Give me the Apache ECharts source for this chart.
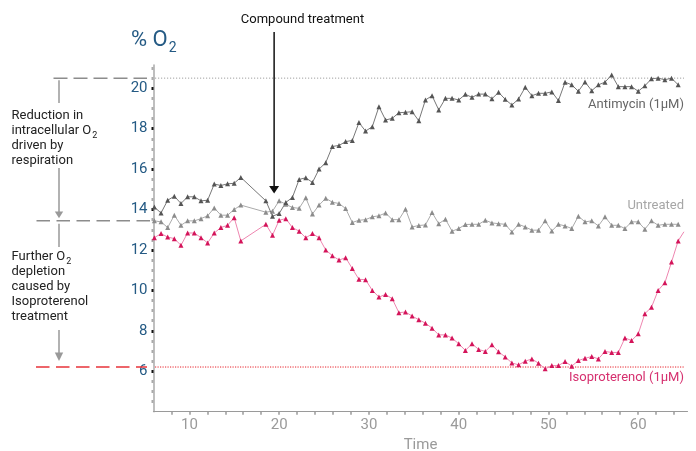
<!DOCTYPE html>
<html><head><meta charset="utf-8">
<script src="https://cdn.jsdelivr.net/npm/echarts@6/dist/echarts.min.js"></script>
<style>html,body{margin:0;padding:0;background:#fff}#c{width:696px;height:451px}</style>
</head><body><div id="c"></div>
<script>
// ---- data ----
const times = [6.10, 6.84, 7.58, 8.32, 9.06, 9.80, 10.55, 11.29, 12.03, 12.77, 13.51, 14.25, 14.99, 15.73,
  18.52, 19.26, 20.00, 20.74, 21.48, 22.23, 22.97, 23.71, 24.45, 25.19, 25.93, 26.67, 27.41, 28.15, 28.89, 29.63,
  30.38, 31.12, 31.86, 32.60, 33.34, 34.08, 34.82, 35.56, 36.30, 37.04, 37.78, 38.53, 39.27, 40.01, 40.75, 41.49,
  42.23, 42.97, 43.71, 44.45, 45.19, 45.93, 46.68, 47.42, 48.16, 48.90, 49.64, 50.38, 51.12, 51.86, 52.60, 53.34,
  54.08, 54.83, 55.57, 56.31, 57.05, 57.79, 58.53, 59.27, 60.01, 60.75, 61.49, 62.23, 62.98, 63.72, 64.46];
const antimycin = [14.12, 13.83, 14.46, 14.66, 14.30, 14.63, 14.63, 14.43, 14.46, 15.26, 15.19, 15.27, 15.30, 15.59,
  14.43, 13.67, 13.80, 14.35, 14.60, 15.49, 15.57, 15.34, 16.00, 16.32, 17.12, 17.17, 17.36, 17.42, 18.30, 17.88,
  18.10, 19.09, 18.43, 18.51, 18.79, 18.81, 18.84, 18.39, 19.42, 19.63, 18.93, 19.50, 19.50, 19.42, 19.70, 19.55,
  19.71, 19.71, 19.48, 19.80, 19.45, 19.17, 19.47, 20.05, 19.63, 19.75, 19.75, 19.82, 19.39, 20.30, 20.17, 19.85,
  20.31, 19.88, 20.17, 20.30, 20.66, 20.08, 20.08, 20.08, 19.85, 20.12, 20.47, 20.50, 20.42, 20.50, 20.17];
const untreated = [13.44, 13.39, 13.11, 13.72, 13.22, 13.44, 13.44, 13.55, 13.69, 14.08, 13.72, 13.72, 14.00, 14.22,
  13.87, 13.92, 14.43, 14.26, 14.10, 14.06, 14.58, 13.78, 14.22, 14.56, 14.36, 14.30, 14.05, 13.36, 13.47, 13.50,
  13.64, 13.69, 13.83, 13.50, 13.50, 14.02, 13.14, 13.21, 13.24, 13.85, 13.30, 13.52, 12.93, 13.06, 13.26, 13.27,
  13.27, 13.47, 13.34, 13.30, 13.27, 12.89, 13.27, 13.14, 12.98, 12.98, 13.44, 12.94, 13.27, 13.19, 13.06, 13.67,
  13.39, 13.44, 13.19, 13.64, 13.22, 13.22, 13.06, 13.39, 13.39, 13.03, 13.44, 13.22, 13.27, 13.27, 13.27];
const isoproterenol = [12.61, 12.81, 12.64, 12.56, 12.23, 12.84, 12.84, 12.61, 12.35, 12.84, 13.11, 13.22, 13.60, 12.45,
  13.27, 12.73, 13.47, 13.55, 13.11, 12.93, 12.60, 12.81, 12.60, 12.00, 11.72, 11.50, 11.62, 11.08, 10.55, 10.53,
  10.00, 9.67, 9.80, 9.59, 8.90, 8.93, 8.73, 8.55, 8.38, 8.13, 7.80, 7.80, 7.64, 7.36, 7.03, 7.36,
  7.08, 6.98, 7.31, 6.96, 6.71, 6.41, 6.32, 6.50, 6.61, 6.40, 6.12, 6.28, 6.28, 6.48, 6.25, 6.53,
  6.64, 6.73, 6.61, 6.98, 6.93, 6.93, 7.65, 7.52, 7.85, 8.85, 9.17, 10.00, 10.38, 11.40, 12.45];
const isoEnd = [65.1, 12.9];           // line continues to the edge without a marker
const xTickValues = [8, 10, 12, 14, 16, 18, 20, 22, 24, 26, 28, 30, 32, 34, 36, 38, 40, 42, 44, 46, 48, 50, 52, 54, 56, 58, 60, 62, 64];
const xLabelValues = [10, 20, 30, 40, 50, 60];
const yLabelValues = [6, 8, 10, 12, 14, 16, 18, 20];
const refLevels = { baseline: 20.5, respiration: 13.44, isoproterenol: 6.21 };
const treatmentTime = 19.44;
const seriesNames = ['Antimycin (1µM)', 'Untreated', 'Isoproterenol (1µM)'];

// ---- chart ----
const FONT = 'Roboto';
const chart = echarts.init(document.getElementById('c'), null, { renderer: 'canvas' });
const pairs = (vals) => times.map((t, i) => [t, vals[i]]);
const isoData = pairs(isoproterenol).concat([{ value: isoEnd, symbol: 'none' }]);

chart.setOption({
  animation: false,
  textStyle: { fontFamily: FONT },
  grid: { left: 153.5, right: 8.5, top: 65, bottom: 39.3, containLabel: false, outerBoundsMode: 'none' },
  xAxis: {
    type: 'value', min: 6, max: 65.5, interval: 2,
    axisLine: { lineStyle: { color: '#9a9a9a', width: 1.2 } },
    axisTick: { show: true, length: 3, customValues: xTickValues, lineStyle: { color: '#9a9a9a', width: 1.5 } },
    axisLabel: { customValues: xLabelValues, color: '#9a9a9a', fontSize: 15, margin: 6, fontFamily: FONT },
    splitLine: { show: false },
    name: 'Time', nameLocation: 'middle', nameGap: 25,
    nameTextStyle: { color: '#9a9a9a', fontSize: 15, fontFamily: FONT }
  },
  yAxis: {
    type: 'value', min: 4, max: 21.15, interval: 2,
    axisLine: { show: true, lineStyle: { color: '#aaaaaa', width: 1.5 } },
    axisTick: { show: true, length: 2, customValues: yLabelValues, lineStyle: { color: '#111', width: 3 } },
    minorTick: { show: true, splitNumber: 4, length: 2, lineStyle: { color: '#aaaaaa', width: 3 } },
    axisLabel: { customValues: yLabelValues, color: '#245a84', fontSize: 15, margin: 6, fontFamily: FONT },
    splitLine: { show: false }
  },
  series: [
    {
      type: 'line', name: seriesNames[0], data: pairs(antimycin),
      symbol: 'triangle', symbolSize: 5, z: 4,
      lineStyle: { color: '#777', width: 1 }, itemStyle: { color: '#555' }
    },
    {
      type: 'line', name: seriesNames[1], data: pairs(untreated),
      symbol: 'triangle', symbolSize: 5, z: 3,
      lineStyle: { color: '#aaa', width: 1 }, itemStyle: { color: '#8c8c8c' }
    },
    {
      type: 'line', name: seriesNames[2], data: isoData,
      symbol: 'triangle', symbolSize: 5, z: 5,
      lineStyle: { color: '#ee86b0', width: 1 }, itemStyle: { color: '#d4145a' }
    }
  ]
});

// ---- annotations ----
const yPx = v => chart.convertToPixel({ gridIndex: 0 }, [6, v])[1];
const xPx = t => chart.convertToPixel({ gridIndex: 0 }, [t, 4])[0];
const yTop = yPx(refLevels.baseline), yMid = yPx(refLevels.respiration), yIso = yPx(refLevels.isoproterenol);
const ax = xPx(treatmentTime);
const g = [];
const txt = (text, x, y, opt) => g.push({
  type: 'text', silent: true,
  style: Object.assign({
    text, x, y, fill: '#222', fontSize: 13, fontFamily: FONT,
    align: 'left', textAlign: 'left', verticalAlign: 'middle', textVerticalAlign: 'middle'
  }, opt || {})
});
const line = (x1, y1, x2, y2, stroke, w, dash) => g.push({
  type: 'line', silent: true, z: 1, shape: { x1, y1, x2, y2 },
  style: { stroke, lineWidth: w, lineDash: dash || null }
});
const tri = (cx, yBase, yTip, halfW, fill) => g.push({
  type: 'polygon', silent: true,
  shape: { points: [[cx - halfW, yBase], [cx + halfW, yBase], [cx, yTip]] },
  style: { fill }
});
const subRich = (fs, pad) => ({ sub: { fontSize: fs, fontFamily: FONT, padding: [pad, 0, 0, 1] } });

// dotted reference levels inside the plot
const gx0 = xPx(6) + 1.5, gx1 = 684;
line(gx0, yTop, gx1, yTop, '#a0a0a0', 1, [1.2, 1.8]);
line(gx0, yIso, gx1, yIso, '#e8202a', 1, [1.2, 1.3]);
// title % O2
txt('% O{sub|2}', 131, 40, { fill: '#245a84', fontSize: 22, rich: subRich(14, 17) });
// Compound treatment arrow
txt('Compound treatment', 302.5, 20, { fill: '#111', align: 'center', textAlign: 'center' });
line(ax, 32, ax, 187, '#111', 1.5);
tri(ax, 186, 193.5, 5, '#111');
// left dashed guide lines
line(53.5, yTop, 147, yTop, '#8c8c8c', 1.5, [14, 6]);
line(36.5, yMid, 150, yMid, '#8c8c8c', 1.5, [13.5, 6.5]);
line(36, yIso, 147, yIso, '#e8333a', 1.5, [13.5, 6.5]);
// left arrows
const axL = 59;
line(axL, yTop + 2, axL, 103, '#999', 1.5);
line(axL, 168, axL, 212, '#999', 1.5);
tri(axL, 211.5, yMid - 2.5, 4.2, '#999');
line(axL, yMid + 3, axL, 247, '#999', 1.5);
line(axL, 330, axL, 353, '#999', 1.5);
tri(axL, 352.5, yIso - 6, 4.2, '#999');
// left texts
const lx = 11.5;
txt('Reduction in', lx, 116);
txt('intracellular O{sub|2}', lx, 130.7, { rich: subRich(9, 10) });
txt('driven by', lx, 145.7);
txt('respiration', lx, 160.7);
txt('Further O{sub|2}', lx, 256.7, { rich: subRich(9, 10) });
txt('depletion', lx, 271.7);
txt('caused by', lx, 286.7);
txt('Isoproterenol', lx, 301.7);
txt('treatment', lx, 316.7);
// series labels
const rx = 684;
txt(seriesNames[0], rx, yPx(19.2), { fill: '#666', align: 'right', textAlign: 'right' });
txt(seriesNames[1], rx, yPx(14.2), { fill: '#a6a6a6', align: 'right', textAlign: 'right' });
txt(seriesNames[2], rx, yPx(5.7), { fill: '#d6306f', align: 'right', textAlign: 'right' });

chart.setOption({ graphic: { elements: g } });
</script>
</body></html>
